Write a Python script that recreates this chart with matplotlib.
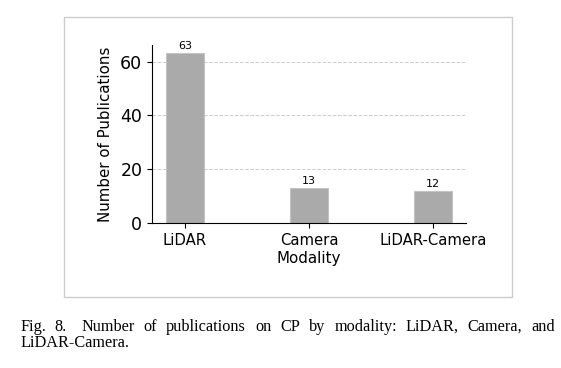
import matplotlib.pyplot as plt
from matplotlib.patches import Rectangle

plt.rcParams["font.family"] = ["DejaVu Sans"]

# data
modalities = ["LiDAR", "Camera", "LiDAR-Camera"]
counts = [63, 13, 12]
y_ticks = [0, 20, 40, 60]

caption_line1 = "Fig. 8.  Number of publications on CP by modality: LiDAR, Camera, and"
caption_line2 = "LiDAR-Camera."

W, H = 561, 368
fig = plt.figure(figsize=(W / 100, H / 100), dpi=100)

# light frame round the chart
fig.patches.append(Rectangle((64 / W, 1 - 297 / H), (512 - 64) / W, (297 - 17) / H,
                             transform=fig.transFigure, fill=False,
                             edgecolor="#cccccc", linewidth=1.0))

ax = fig.add_axes([152 / W, 1 - 223 / H, (466 - 152) / W, (223 - 45) / H])
x = list(range(len(modalities)))
bars = ax.bar(x, counts, width=0.3, color="#aaaaaa", edgecolor="#c4c4c4", linewidth=0.8, zorder=2)

for b, v in zip(bars, counts):
    ax.annotate(str(v), (b.get_x() + b.get_width() / 2, v), xytext=(0, 1.5),
                textcoords="offset points", ha="center", va="bottom", fontsize=8)

ax.set_ylim(0, max(counts) * 1.05)
ax.set_yticks(y_ticks)
ax.set_xticks(x)
ax.set_xticklabels(modalities, fontsize=10.7)
ax.tick_params(axis="y", labelsize=12.5)
ax.set_xlabel("Modality", fontsize=10.8, labelpad=2)
ax.set_ylabel("Number of Publications", fontsize=10.8, labelpad=5)
ax.yaxis.grid(True, linestyle="--", color="#cccccc", linewidth=0.7, zorder=0)
ax.set_axisbelow(True)
ax.spines["top"].set_visible(False)
ax.spines["right"].set_visible(False)

# caption, first line justified between x=20 and x=555
serif = "Liberation Serif"
fig.canvas.draw()
r = fig.canvas.get_renderer()
words = caption_line1.split()
texts = [fig.text(0, 1 - 331 / H, w, fontsize=11.7, family=serif) for w in words]
widths = [t.get_window_extent(r).width for t in texts]
gap = (555 - 20 - sum(widths)) / (len(words) - 1 + 0.6)
xpos = 20
for i, (t, wd) in enumerate(zip(texts, widths)):
    t.set_x(xpos / W)
    xpos += wd + gap + (gap * 0.6 if i == 1 else 0)
fig.text(20 / W, 1 - 347 / H, caption_line2, fontsize=11.7, family=serif)

fig.savefig("out.png", dpi=100)
